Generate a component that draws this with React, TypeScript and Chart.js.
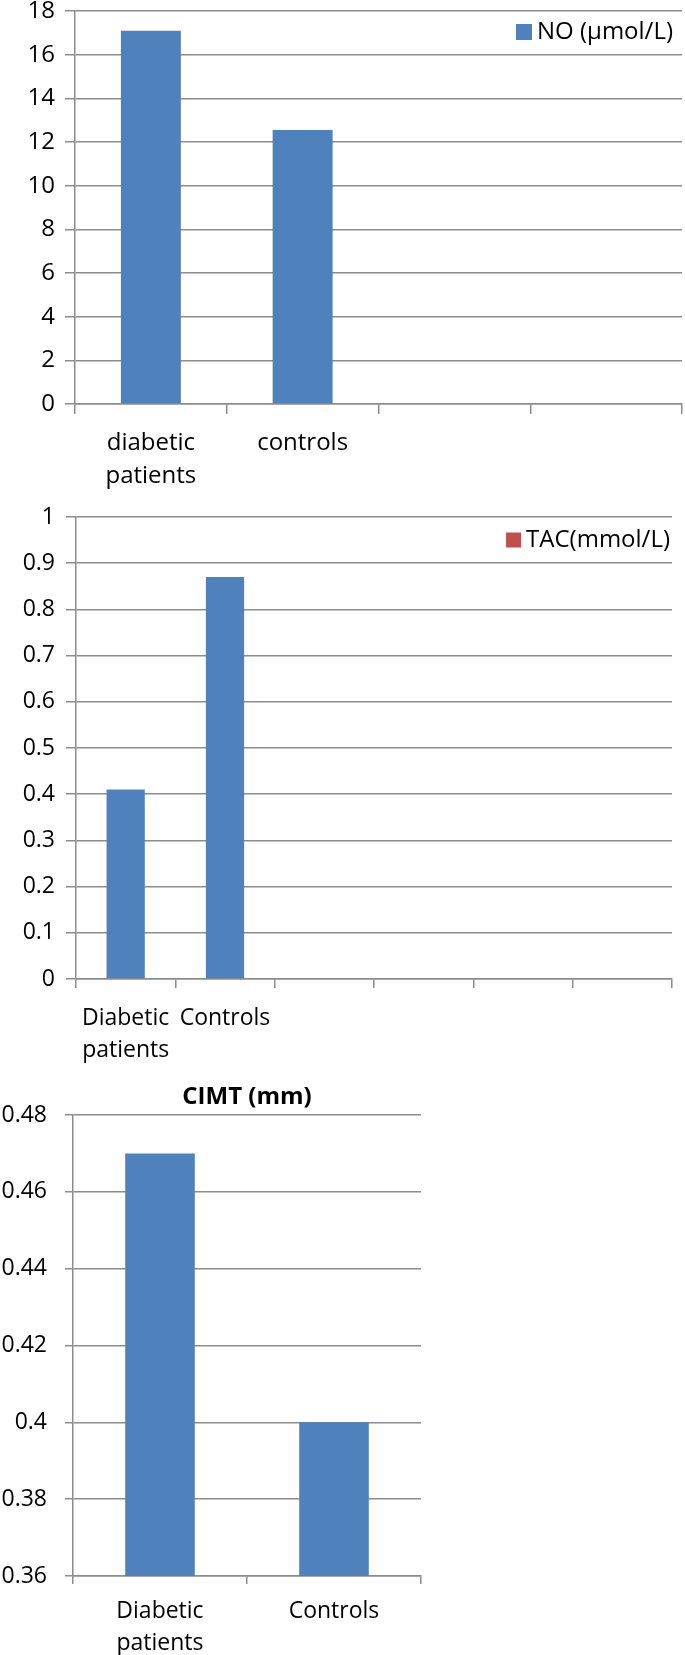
import React, { useEffect, useRef } from "react";
import { Chart, registerables } from "chart.js";

Chart.register(...registerables);

// ---------- data ----------
const noCategories: (string | string[])[] = [["diabetic", "patients"], "controls", "", ""];
const noValues: (number | null)[] = [17.1, 12.55, null, null];
const noYTicks: number[] = [0, 2, 4, 6, 8, 10, 12, 14, 16, 18];
const noLabel = "NO (\u00b5mol/L)";

const tacCategories: (string | string[])[] = [["Diabetic", "patients"], "Controls", "", "", "", ""];
const tacValues: (number | null)[] = [0.41, 0.87, null, null, null, null];
const tacYTicks: number[] = [0, 0.1, 0.2, 0.3, 0.4, 0.5, 0.6, 0.7, 0.8, 0.9, 1];
const tacLabel = "TAC(mmol/L)";

const cimtCategories: (string | string[])[] = [["Diabetic", "patients"], "Controls"];
const cimtValues: number[] = [0.47, 0.4];
const cimtYTicks: number[] = [0.36, 0.38, 0.4, 0.42, 0.44, 0.46, 0.48];
const cimtTitle = "CIMT (mm)";

// ---------- styles ----------
const FONT = '"Open Sans", sans-serif';
const BAR_BLUE = "#4F81BD";
const LEGEND_RED = "#C0504D";
const GRID = "#8c8c8c";
const TEXT = "#000000";

const insideLegend = {
  id: "insideLegend",
  afterDraw(chart: any, _args: any, opts: any) {
    const { ctx, chartArea } = chart;
    const text: string = chart.data.datasets[0].label;
    ctx.save();
    ctx.font = `${opts.size}px ${FONT}`;
    const tw = ctx.measureText(text).width;
    const right = chartArea.right - opts.inset;
    const cy = chartArea.top + opts.offsetY;
    ctx.fillStyle = opts.color;
    ctx.fillRect(right - tw - opts.gap - opts.box, cy - opts.box / 2, opts.box, opts.box);
    ctx.fillStyle = TEXT;
    ctx.textAlign = "left";
    ctx.textBaseline = "middle";
    ctx.fillText(text, right - tw, cy);
    ctx.restore();
  },
};

type Spec = {
  top: number;
  w: number;
  h: number;
  labels: (string | string[])[];
  values: (number | null)[];
  yTicks: number[];
  label: string;
  barPct: number;
  padTop: number;
  padRight: number;
  yWidth: number;
  xHeight: number;
  fontSize: number;
  xLineHeight: number;
  xTickLen: number;
  xPad: number;
  yTickLen: number;
  yPad: number;
  legend?: { color: string; size: number; inset: number; offsetY: number; box: number; gap: number };
  title?: { text: string; size: number; padBottom: number };
};

function makeConfig(s: Spec): any {
  return {
    type: "bar",
    data: {
      labels: s.labels,
      datasets: [
        {
          label: s.label,
          data: s.values,
          backgroundColor: BAR_BLUE,
          borderWidth: 0,
          barPercentage: s.barPct,
          categoryPercentage: 1,
        },
      ],
    },
    options: {
      animation: false,
      responsive: false,
      maintainAspectRatio: false,
      layout: { padding: { top: s.padTop, right: s.padRight, left: 0, bottom: 0 } },
      plugins: {
        legend: { display: false },
        tooltip: { enabled: false },
        title: s.title
          ? {
              display: true,
              text: s.title.text,
              fullSize: false,
              color: TEXT,
              font: { family: FONT, size: s.title.size, weight: "bold", lineHeight: 1.2 },
              padding: { top: 0, bottom: s.title.padBottom },
            }
          : { display: false },
        insideLegend: s.legend ? s.legend : false,
      },
      scales: {
        x: {
          type: "category",
          offset: true,
          grid: {
            display: true,
            offset: true,
            drawOnChartArea: false,
            drawTicks: true,
            tickLength: s.xTickLen,
            color: GRID,
            lineWidth: 1.5,
          },
          border: { display: true, color: GRID, width: 1.5 },
          ticks: {
            autoSkip: false,
            maxRotation: 0,
            minRotation: 0,
            padding: s.xPad,
            color: TEXT,
            font: { family: FONT, size: s.fontSize, lineHeight: s.xLineHeight },
          },
          afterFit: (sc: any) => {
            sc.height = s.xHeight;
            sc.paddingLeft = 0;
            sc.paddingRight = 0;
          },
        },
        y: {
          min: s.yTicks[0],
          max: s.yTicks[s.yTicks.length - 1],
          grid: { color: GRID, lineWidth: 1.5, drawTicks: true, tickLength: s.yTickLen },
          border: { display: true, color: GRID, width: 1.5 },
          ticks: {
            padding: s.yPad,
            color: TEXT,
            font: { family: FONT, size: s.fontSize },
            callback: (v: any) => String(v),
          },
          afterBuildTicks: (sc: any) => {
            sc.ticks = s.yTicks.map((value) => ({ value }));
          },
          afterFit: (sc: any) => {
            sc.width = s.yWidth;
            sc.paddingTop = 0;
            sc.paddingBottom = 0;
          },
        },
      },
    },
    plugins: [insideLegend],
  };
}

const specs: Spec[] = [
  {
    top: 0,
    w: 685,
    h: 500,
    labels: noCategories,
    values: noValues,
    yTicks: noYTicks,
    label: noLabel,
    barPct: 0.395,
    padTop: 11,
    padRight: 3,
    yWidth: 75,
    xHeight: 96,
    fontSize: 24,
    xLineHeight: 1.375,
    xTickLen: 10,
    xPad: 12.5,
    yTickLen: 10,
    yPad: 10,
    legend: { color: BAR_BLUE, size: 24, inset: 9, offsetY: 21, box: 16, gap: 5 },
  },
  {
    top: 490,
    w: 685,
    h: 590,
    labels: tacCategories,
    values: tacValues,
    yTicks: tacYTicks,
    label: tacLabel,
    barPct: 0.385,
    padTop: 27,
    padRight: 13,
    yWidth: 76,
    xHeight: 101,
    fontSize: 23,
    xLineHeight: 1.4,
    xTickLen: 9,
    xPad: 14,
    yTickLen: 10,
    yPad: 11,
    legend: { color: LEGEND_RED, size: 24, inset: 2, offsetY: 23, box: 15, gap: 5 },
  },
  {
    top: 1050,
    w: 450,
    h: 605,
    labels: cimtCategories,
    values: cimtValues,
    yTicks: cimtYTicks,
    label: cimtTitle,
    barPct: 0.4,
    padTop: 32.6,
    padRight: 29,
    yWidth: 73,
    xHeight: 79,
    fontSize: 23,
    xLineHeight: 1.37,
    xTickLen: 8,
    xPad: 12,
    yTickLen: 8,
    yPad: 18,
    title: { text: cimtTitle, size: 24, padBottom: 3.6 },
  },
];

function BarChart({ spec }: { spec: Spec }) {
  const ref = useRef<HTMLCanvasElement>(null);
  useEffect(() => {
    if (!ref.current) return;
    const chart = new Chart(ref.current, makeConfig(spec));
    return () => chart.destroy();
  }, [spec]);
  return (
    <canvas
      ref={ref}
      width={spec.w}
      height={spec.h}
      style={{ position: "absolute", left: 0, top: spec.top, width: spec.w, height: spec.h }}
    />
  );
}

export default function App() {
  return (
    <div
      style={{
        position: "absolute",
        left: 0,
        top: 0,
        width: 685,
        height: 1655,
        background: "#ffffff",
        overflow: "hidden",
      }}
    >
      {specs.map((s, i) => (
        <BarChart key={i} spec={s} />
      ))}
    </div>
  );
}
